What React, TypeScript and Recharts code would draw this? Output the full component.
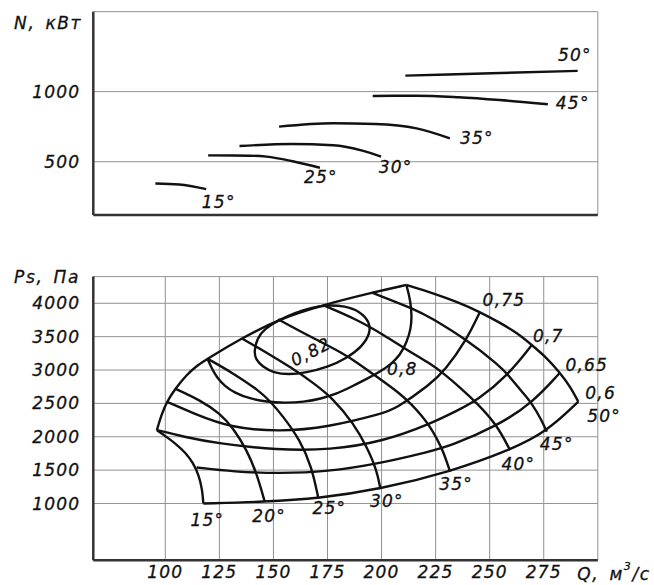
import React from 'react';
import { LineChart, Line, XAxis, YAxis, CartesianGrid, ReferenceDot } from 'recharts';

// ---------- axes ----------
const xTicks = [100, 125, 150, 175, 200, 225, 250, 275, 300];
const topYTicks = [500, 1000, 1570];
const bottomYTicks = [1000, 1500, 2000, 2500, 3000, 3500, 4000, 4400];
const X_DOMAIN: [number, number] = [66.7, 300];
const TOP_Y_DOMAIN: [number, number] = [120, 1570];
const BOTTOM_Y_DOMAIN: [number, number] = [150, 4400];

// ---------- top chart: N, kW vs Q ----------
const power15 = [[95.4, 345], [106.4, 338], [118.9, 305]];
const power25 = [[119.8, 545], [139, 543], [146.8, 536], [158.4, 505], [171.5, 457]];
const power30 = [[134.3, 612], [158.4, 626], [177.6, 617], [191.1, 579], [199.8, 536]];
const power35 = [[152.6, 750], [177.6, 774], [196.9, 769], [216.2, 738], [231.6, 667]];
const power45 = [[195.9, 969], [216.2, 971], [235.4, 960], [254.7, 940], [276.9, 910]];
const power50 = [[211, 1114], [250.8, 1131], [290.7, 1148]];

const topLabels = [
  { x: 124.7, y: 214, t: '15°' },
  { x: 171.9, y: 393, t: '25°' },
  { x: 206.5, y: 464, t: '30°' },
  { x: 244.1, y: 667, t: '35°' },
  { x: 288.4, y: 917, t: '45°' },
  { x: 289.4, y: 1262, t: '50°' },
];

// ---------- bottom chart: Ps vs Q ----------
// stall boundary (left to right)
const stallLine = [[96.1, 2100], [98.2, 2330], [100.7, 2524], [104.6, 2720], [109.9, 2930], [114.6, 3065], [119.5, 3170], [135.3, 3475], [152.2, 3760], [172.8, 3975], [195.6, 4160], [211.5, 4275]];
// blade-angle curves, listed from the lower end up to the stall boundary
const angle15 = [[117.6, 1000], [117.1, 1200], [115.6, 1420], [112.8, 1610], [109.4, 1760], [105, 1890], [100.5, 2000], [96.1, 2100]];
const angle20 = [[146, 1025], [142.3, 1450], [137.7, 1800], [131.5, 2125], [125.3, 2350], [116, 2550], [104.6, 2720]];
const angle25 = [[170.8, 1075], [167.7, 1550], [162.3, 1950], [154.6, 2300], [148.7, 2525], [143.8, 2680], [131.5, 2950], [119.5, 3170]];
const angle30 = [[199.5, 1215], [197.8, 1500], [193.2, 1850], [187, 2200], [177.7, 2570], [168, 2820], [158, 3040], [146.9, 3260], [135.3, 3475]];
const angle35 = [[231.7, 1475], [228.6, 1775], [225.8, 1960], [222.4, 2150], [218.5, 2320], [214, 2480], [208.5, 2650], [197.8, 2900], [189.2, 3100], [182.3, 3250], [167, 3500], [152.2, 3760]];
const angle40 = [[259.4, 1800], [253.3, 2180], [244, 2510], [236.2, 2740], [229.4, 2930], [222.4, 3100], [213.2, 3270], [200.8, 3530], [188.5, 3760], [172.8, 3975]];
const angle45 = [[276.4, 2075], [274, 2250], [269.5, 2500], [265.8, 2640], [258.6, 2925], [254.7, 3060], [239.4, 3455], [222.4, 3790], [216.2, 3900], [195.6, 4160]];
const angle50 = [[291, 2525], [287.5, 2740], [282.5, 2960], [276.5, 3180], [269.5, 3375], [263, 3550], [254.7, 3710], [245.5, 3870], [235, 4020], [224, 4150], [211.5, 4275]];

// efficiency contours
const eta60 = [[117.6, 1000], [146, 1025], [170.8, 1075], [199.5, 1215], [231.7, 1475], [259.4, 1800], [276.4, 2075], [291, 2525]];
const eta65 = [[114.5, 1540], [131.5, 1475], [153.1, 1450], [174.7, 1475], [199.2, 1600], [222.4, 1780], [231.6, 1860], [253.3, 2160], [269.5, 2500], [282.5, 2960]];
const eta70 = [[96.1, 2100], [108.4, 2000], [123.8, 1900], [152, 1800], [176, 1800], [200.8, 1930], [222.4, 2190], [235.4, 2400], [244, 2540], [258.6, 2925], [269.5, 3375]];
const eta75 = [[100.7, 2524], [113, 2350], [130, 2135], [153, 2075], [175, 2140], [200.8, 2350], [206.5, 2420], [222.4, 2780], [229.4, 3000], [239.4, 3455], [245.5, 3870]];
const eta80 = [[119.5, 3170], [121.5, 3020], [124, 2880], [127.5, 2760], [132, 2660], [139, 2570], [147, 2525], [155, 2505], [164, 2520], [172, 2570], [179, 2640], [185.4, 2740], [192.5, 2855], [199.3, 2975], [204.5, 3090], [208.5, 3220], [211.7, 3420], [213.6, 3620], [214, 3820], [213.3, 4050], [211.5, 4275]];
const eta82 = [[141, 3275], [142.5, 3480], [146, 3620], [152, 3740], [160, 3860], [168, 3935], [175, 3975], [183, 3960], [190, 3880], [194.5, 3720], [194.8, 3550], [191, 3350], [184, 3180], [175, 3040], [165, 2960], [157, 2930], [150, 2960], [145, 3050], [141.8, 3160]];

const bottomLabels = [
  { x: 119.4, y: 745, t: '15°' },
  { x: 148, y: 812, t: '20°' },
  { x: 175.9, y: 925, t: '25°' },
  { x: 202.4, y: 1040, t: '30°' },
  { x: 234.5, y: 1285, t: '35°' },
  { x: 263.3, y: 1590, t: '40°' },
  { x: 281, y: 1890, t: '45°' },
  { x: 302.9, y: 2315, t: '50°' },
  { x: 301.3, y: 2660, t: '0,6' },
  { x: 294.9, y: 3080, t: '0,65' },
  { x: 277.1, y: 3510, t: '0,7' },
  { x: 256.6, y: 4055, t: '0,75' },
  { x: 209.6, y: 3010, t: '0,8' },
  { x: 167.3, y: 3275, t: '0,82', rot: -27 },
];

const topCurves = [power15, power25, power30, power35, power45, power50];
const bottomCurves: { pts: number[][]; type: any }[] = [
  { pts: stallLine, type: 'basis' },
  { pts: angle15, type: 'basis' },
  { pts: angle20, type: 'basis' },
  { pts: angle25, type: 'basis' },
  { pts: angle30, type: 'basis' },
  { pts: angle35, type: 'basis' },
  { pts: angle40, type: 'basis' },
  { pts: angle45, type: 'basis' },
  { pts: angle50, type: 'basis' },
  { pts: eta60, type: 'basis' },
  { pts: eta65, type: 'basis' },
  { pts: eta70, type: 'basis' },
  { pts: eta75, type: 'basis' },
  { pts: eta80, type: 'basis' },
  { pts: eta82, type: 'basisClosed' },
];

// ---------- styles ----------
const FONT = "'DejaVu Sans', sans-serif";
const tickStyle = { fontFamily: FONT, fontStyle: 'italic', fontSize: 17, fill: '#111', stroke: '#111', strokeWidth: 0.3, letterSpacing: 1.2 } as any;
const titleStyle = { ...tickStyle, letterSpacing: 1.6 } as any;
const GRID = '#929292';
const AXIS = { stroke: '#333', strokeWidth: 2.5 };
const CURVE = '#111';

const toPts = (a: number[][]) => a.map(([x, y]) => ({ x, y }));

const textShape = (text: string, rot = 0, style: any = tickStyle) => (p: any) => (
  <text
    x={p.cx}
    y={p.cy}
    textAnchor="middle"
    dominantBaseline="central"
    transform={rot ? `rotate(${rot} ${p.cx} ${p.cy})` : undefined}
    style={style}
  >
    {text}
  </text>
);

const qLabelShape = (p: any) => (
  <text x={p.cx} y={p.cy} textAnchor="middle" dominantBaseline="central" style={titleStyle}>
    Q,{'\u2002'}м<tspan dy={-8} fontSize={11}>3</tspan>
    <tspan dy={8}>/с</tspan>
  </text>
);

export default function App() {
  return (
    <div style={{ position: 'absolute', left: 0, top: 0, width: 654, height: 585, background: '#fff' }}>
      <div style={{ position: 'absolute', left: 0, top: 0 }}>
        <LineChart width={654} height={230} margin={{ top: 11.7, right: 56.2, bottom: 5, left: 33.3 }}>
          <CartesianGrid stroke={GRID} strokeWidth={1} />
          <XAxis
            type="number"
            dataKey="x"
            domain={X_DOMAIN}
            allowDataOverflow
            ticks={xTicks}
            tick={false}
            tickLine={false}
            axisLine={AXIS}
            height={10}
          />
          <YAxis
            type="number"
            domain={TOP_Y_DOMAIN}
            allowDataOverflow
            ticks={topYTicks}
            tickFormatter={(v: number) => (v === 1570 ? '' : String(v))}
            tick={tickStyle}
            tickLine={false}
            tickSize={0}
            tickMargin={13}
            axisLine={AXIS}
            width={60}
          />
          {topCurves.map((c, i) => (
            <Line
              key={'t' + i}
              data={toPts(c)}
              dataKey="y"
              type="monotone"
              stroke={CURVE}
              strokeWidth={2.4}
              dot={false}
              activeDot={false}
              isAnimationActive={false}
            />
          ))}
          {topLabels.map((l, i) => (
            <ReferenceDot key={'tl' + i} x={l.x} y={l.y} r={0} ifOverflow="visible" shape={textShape(l.t)} />
          ))}
          <ReferenceDot x={45.8} y={1491} r={0} ifOverflow="visible" shape={textShape('N,\u2002кВт', 0, titleStyle)} />
        </LineChart>
      </div>
      <div style={{ position: 'absolute', left: 0, top: 250 }}>
        <LineChart width={654} height={335} margin={{ top: 26.6, right: 56.2, bottom: 4.8, left: 33.3 }}>
          <CartesianGrid stroke={GRID} strokeWidth={1} />
          <XAxis
            type="number"
            dataKey="x"
            domain={X_DOMAIN}
            allowDataOverflow
            ticks={xTicks}
            tickFormatter={(v: number) => (v === 300 ? '' : String(v))}
            tick={tickStyle}
            tickLine={false}
            tickSize={0}
            tickMargin={6}
            axisLine={AXIS}
            height={20}
          />
          <YAxis
            type="number"
            domain={BOTTOM_Y_DOMAIN}
            allowDataOverflow
            ticks={bottomYTicks}
            tickFormatter={(v: number) => (v === 4400 ? '' : String(v))}
            tick={tickStyle}
            tickLine={false}
            tickSize={0}
            tickMargin={13}
            axisLine={AXIS}
            width={60}
          />
          {bottomCurves.map((c, i) => (
            <Line
              key={'b' + i}
              data={toPts(c.pts)}
              dataKey="y"
              type={c.type}
              stroke={CURVE}
              strokeWidth={2.4}
              dot={false}
              activeDot={false}
              isAnimationActive={false}
            />
          ))}
          {bottomLabels.map((l, i) => (
            <ReferenceDot key={'bl' + i} x={l.x} y={l.y} r={0} ifOverflow="visible" shape={textShape(l.t, l.rot || 0)} />
          ))}
          <ReferenceDot x={45.3} y={4394} r={0} ifOverflow="visible" shape={textShape('Ps,\u2002Па', 0, titleStyle)} />
          <ReferenceDot x={307.5} y={-50} r={0} ifOverflow="visible" shape={qLabelShape} />
        </LineChart>
      </div>
    </div>
  );
}
